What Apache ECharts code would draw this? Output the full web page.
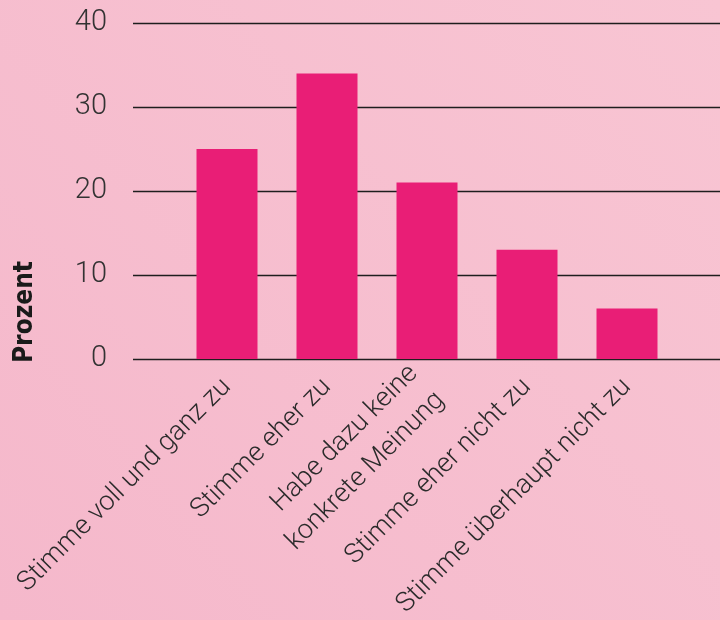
<!DOCTYPE html>
<html>
<head>
<meta charset="utf-8">
<script src="https://cdn.jsdelivr.net/npm/echarts@6/dist/echarts.min.js"></script>
<style>
  html, body { margin: 0; padding: 0; }
  #chart { width: 720px; height: 620px; }
</style>
</head>
<body>
<div id="chart"></div>
<script>
var categories = [
  'Stimme voll und ganz zu',
  'Stimme eher zu',
  'Habe dazu keine\nkonkrete Meinung',
  'Stimme eher nicht zu',
  'Stimme überhaupt nicht zu'
]
var values = [25, 34, 21, 13, 6]
var yTicks = [0, 10, 20, 30, 40]
var yTitle = 'Prozent'

var chart = echarts.init(document.getElementById('chart'))

var lightFont = 'Roboto'
var option = {
  backgroundColor: {
    type: 'linear', x: 0, y: 1, x2: 1, y2: 0,
    colorStops: [
      { offset: 0, color: '#f5b8cb' },
      { offset: 1, color: '#f8c5d3' }
    ]
  },
  animation: false,
  grid: [
    // wide grid: gridlines + y labels
    { left: 133, right: 0, top: 23, bottom: 261, outerBoundsMode: 'none' },
    // narrow grid: the bars
    { left: 177, right: 43, top: 23, bottom: 261, outerBoundsMode: 'none' }
  ],
  graphic: [
    {
      type: 'text',
      x: 25,
      y: 312,
      rotation: Math.PI / 2,
      style: {
        text: yTitle,
        fill: '#1a1a1a',
        font: 'bold 26px "DejaVu Sans Condensed"',
        align: 'center',
        verticalAlign: 'middle'
      }
    }
  ],
  xAxis: [
    { gridIndex: 0, type: 'category', data: [], show: false },
    {
      gridIndex: 1,
      type: 'category',
      data: categories,
      axisLine: { show: false },
      axisTick: { show: false },
      axisLabel: {
        rotate: 45,
        margin: 24,
        interval: 0,
        color: '#2b2b2b',
        fontFamily: lightFont,
        fontWeight: 300,
        fontSize: 27,
        lineHeight: 38
      }
    }
  ],
  yAxis: [
    {
      gridIndex: 0,
      type: 'value',
      min: yTicks[0],
      max: yTicks[yTicks.length - 1],
      interval: 10,
      axisLine: { show: false },
      axisTick: { show: false },
      axisLabel: {
        margin: 26,
        color: '#333',
        fontFamily: lightFont,
        fontWeight: 300,
        fontSize: 29
      },
      splitLine: { show: true, lineStyle: { color: '#1e1e1e', width: 1.3 } }
    },
    {
      gridIndex: 1,
      type: 'value',
      min: yTicks[0],
      max: yTicks[yTicks.length - 1],
      interval: 10,
      show: false
    }
  ],
  series: [
    {
      type: 'bar',
      xAxisIndex: 1,
      yAxisIndex: 1,
      data: values,
      barWidth: 61,
      z: 3,
      itemStyle: { color: '#e91e76' }
    }
  ]
}

chart.setOption(option)
</script>
</body>
</html>
